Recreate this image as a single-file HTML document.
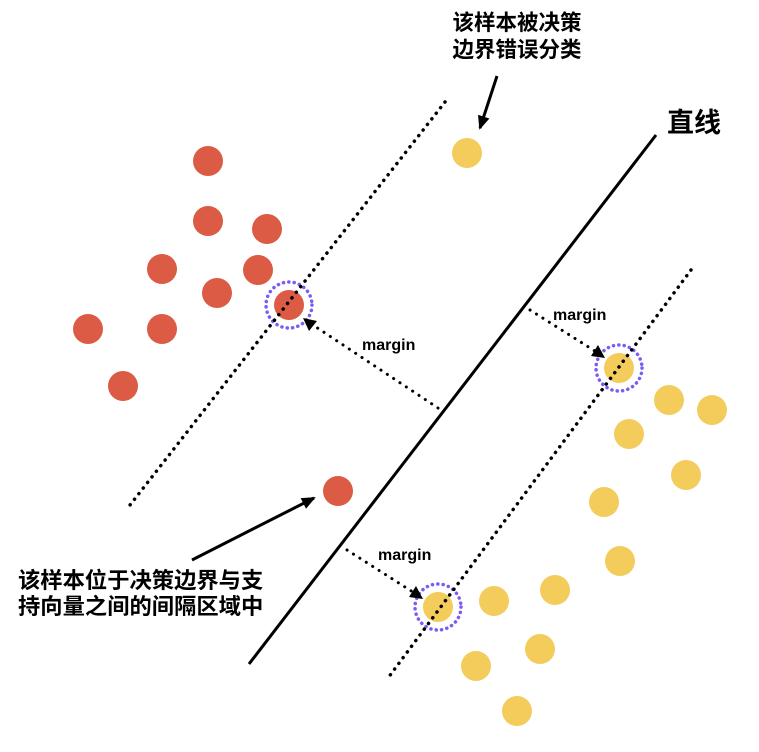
<!DOCTYPE html>
<html><head><meta charset="utf-8"><style>
html,body{margin:0;padding:0;background:#fff;}
svg{display:block;}
text{font-family:"Liberation Sans","Noto Sans CJK SC",sans-serif;font-weight:bold;fill:#000;}
</style></head><body>
<svg width="759" height="752" viewBox="0 0 759 752" xmlns="http://www.w3.org/2000/svg">
<defs>
<marker id="ah2" markerWidth="14" markerHeight="14" refX="12" refY="7" orient="auto" markerUnits="userSpaceOnUse" viewBox="0 0 14 14">
<path d="M0,1 L14,7 L0,13 z" fill="#000"/>
</marker>
</defs>
<g fill="#dc5b44">
<circle cx="208" cy="161" r="15"/><circle cx="208" cy="221" r="15"/><circle cx="267" cy="229" r="15"/>
<circle cx="162" cy="269" r="15"/><circle cx="258" cy="270" r="15"/><circle cx="217" cy="293" r="15"/>
<circle cx="289" cy="305" r="15"/><circle cx="88" cy="329" r="15"/><circle cx="162" cy="329" r="15"/>
<circle cx="123" cy="386" r="15"/><circle cx="338" cy="491" r="15"/>
</g>
<g fill="#f3cc5c">
<circle cx="467" cy="153" r="15"/><circle cx="619" cy="368" r="15"/><circle cx="669" cy="400" r="15"/>
<circle cx="712" cy="410" r="15"/><circle cx="629" cy="434" r="15"/><circle cx="686" cy="475" r="15"/>
<circle cx="604" cy="502" r="15"/><circle cx="620" cy="561" r="15"/><circle cx="555" cy="590" r="15"/>
<circle cx="494" cy="601" r="15"/><circle cx="438" cy="607" r="15"/><circle cx="540" cy="649" r="15"/>
<circle cx="476" cy="666" r="15"/><circle cx="517" cy="711" r="15"/>
</g>
<g fill="none" stroke="#7a5cf5" stroke-width="3.5" stroke-dasharray="0.1 5.3" stroke-linecap="round">
<circle cx="289" cy="305" r="23"/><circle cx="619" cy="368" r="23"/><circle cx="438" cy="607" r="23"/>
</g>
<g stroke="#000" stroke-width="3.5" stroke-dasharray="0.1 7" stroke-linecap="round" fill="none">
<line x1="445" y1="102" x2="130" y2="505"/>
<line x1="691" y1="270" x2="388" y2="678"/>
</g>
<line x1="656" y1="135" x2="249" y2="664" stroke="#000" stroke-width="3"/>
<g stroke="#000" stroke-width="3" stroke-dasharray="0.1 7.5" stroke-linecap="round" fill="none">
<line x1="438" y1="408" x2="310" y2="323"/>
<line x1="530" y1="310" x2="598" y2="353"/>
<line x1="347" y1="550" x2="416" y2="594"/>
</g>
<path d="M303,318 L317,321 L309,331 z" fill="#000"/>
<path d="M605,358 L591,356 L598,345 z" fill="#000"/>
<path d="M423,599 L409,597 L416,586 z" fill="#000"/>
<line x1="497" y1="76" x2="480" y2="128" stroke="#000" stroke-width="3" marker-end="url(#ah2)"/>
<line x1="192" y1="560" x2="314" y2="498" stroke="#000" stroke-width="3" marker-end="url(#ah2)"/>
<text x="362" y="350" font-size="16">margin</text>
<text x="553" y="320" font-size="16">margin</text>
<text x="378" y="560" font-size="16">margin</text>
<text x="517" y="30" font-size="21.5" text-anchor="middle">该样本被决策</text>
<text x="517" y="57" font-size="21.5" text-anchor="middle">边界错误分类</text>
<text x="667" y="132" font-size="27">直线</text>
<text x="18" y="588" font-size="22.3">该样本位于决策边界与支</text>
<text x="18" y="614" font-size="22.3">持向量之间的间隔区域中</text>
</svg>
</body></html>
